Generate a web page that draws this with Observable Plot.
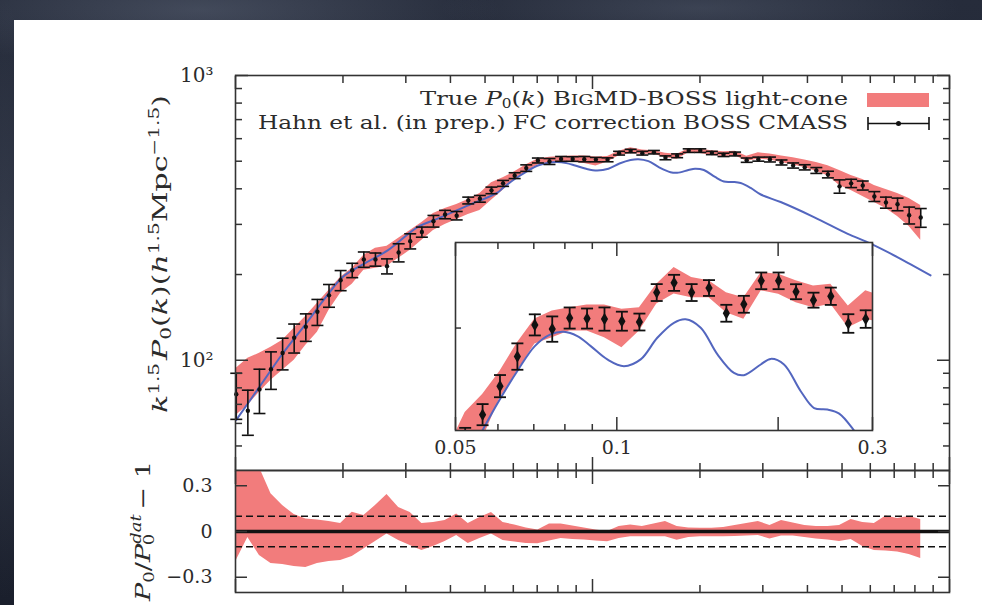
<!DOCTYPE html>
<html><head><meta charset="utf-8">
<script src="https://cdn.jsdelivr.net/npm/d3@7"></script>
<script src="https://cdn.jsdelivr.net/npm/@observablehq/plot@0.6"></script>
<style>
html,body{margin:0;padding:0;}
body{width:982px;height:605px;overflow:hidden;position:relative;background:#1c2130;}
#bg{position:absolute;left:0;top:0;width:982px;height:605px;
background:
 radial-gradient(ellipse 300px 60px at 200px 10px, rgba(120,130,150,0.35), transparent),
 radial-gradient(ellipse 260px 40px at 700px 8px, rgba(110,120,140,0.3), transparent),
 radial-gradient(ellipse 30px 300px at 5px 300px, rgba(110,120,140,0.3), transparent),
 linear-gradient(180deg,#262c3b,#1a1f2c);}
#panel{position:absolute;left:14px;top:20px;width:968px;height:585px;background:#fff;}
svg.layer{position:absolute;left:0;top:0;}
</style></head><body>
<div id="bg"></div><div id="panel"></div><div id="root"></div>
<script>
// ---- data ----
const kVals = [0.01005,0.01083,0.01167,0.01257,0.01355,0.01460,0.01574,0.01696,0.01828,0.01970,
0.02123,0.02288,0.02466,0.02657,0.02864,0.03086,0.03327,0.03585,0.03864,0.04164,
0.04487,0.04836,0.05212,0.05617,0.06053,0.06523,0.07031,0.07577,0.08166,0.08800,
0.09484,0.1022,0.1102,0.1187,0.1279,0.1379,0.1486,0.1601,0.1726,0.1860,
0.2004,0.2160,0.2328,0.2508,0.2704,0.2914,0.3141,0.3384,0.3648,0.3931,
0.4236,0.4565,0.4920,0.5302,0.5715,0.6159,0.6637,0.7152,0.7709,0.8307];
const pVals = [76,66.5,79,93,106,120,131,148,169,191,
207,226,226,214,239,262,282,308,325,322,
364,369,395,418,445,473,503,499,509.5,509,
508.5,506.5,505.7,533.6,542.8,533.6,537.9,514,522.5,544.7,
544.7,534.4,526.4,530.1,504.3,508.5,507,495,483,476,
464,449,408,418,411,376,358,353,323,317];
const pErr = [14,12,14,14,13.5,14,14.5,15.5,15.5,15.5,
12,14,12,13,17.5,16,11.5,14.5,11,11,
10,10,10.5,10,10.5,12.5,10,12,10,9.5,
11,9,8,8,7.6,8,7.5,8,8,7.9,
7.9,7.1,7.1,8.2,8.8,8.3,10,10,10,10,
11,12,22,14,15,15,16,18,22,24];
const bandLo = [64.1,69.5,77.2,85.1,92.2,100,112.9,125.4,149.8,171.8,
184.8,206.9,210.3,213.7,228,243.2,263.7,285.8,300,312.3,
325.2,335.9,365,395,433.8,459.1,484.8,490.8,497.1,497.1,
490.8,481.3,497.1,522.8,532.3,528.8,528.8,514.5,508.3,535.2,
532,524,519.3,522.5,500.3,508.3,505,495,485,475,
460,445,411.2,394.9,376.2,358.4,341.4,320,295.2,263.7];
const bandHi = [93.7,101.6,105.8,111.1,117.5,129.5,142.7,158.5,176,195.6,
210.3,233.6,247.2,251.2,268,285.8,304.9,327.9,341.4,352.6,
367.2,385.5,420,437,459.1,486,508.6,516.2,519.3,521.9,
521.9,517.8,519.3,541.5,557.3,547.8,544.7,533.5,528.8,552.5,
551,544.7,539.9,541.5,520.9,535.2,530,522,514,505,
495,482,464.2,445.8,431.7,411.2,398.1,385.5,370.2,349.8];
const resLo = [-0.19,-0.04,-0.157,-0.21,-0.216,-0.23,-0.236,-0.21,-0.197,-0.19,
-0.164,-0.115,-0.066,-0.016,-0.059,-0.092,-0.125,-0.098,-0.066,-0.026,
-0.079,-0.046,-0.016,-0.059,-0.069,-0.079,-0.081,-0.062,-0.046,-0.052,
-0.056,-0.062,-0.068,-0.046,-0.035,-0.035,-0.035,-0.035,-0.057,-0.039,
-0.035,-0.035,-0.035,-0.033,-0.03,-0.026,-0.049,-0.03,-0.03,-0.039,
-0.049,-0.056,-0.066,-0.052,-0.098,-0.125,-0.128,-0.134,-0.151,-0.177];
const resHi = [0.55,0.5,0.42,0.247,0.17,0.111,0.082,0.075,0.066,0.052,
0.127,0.105,0.17,0.243,0.157,0.125,0.052,0.059,0.072,0.115,
0.052,0.092,0.125,0.059,0.043,0.023,0.01,0.049,0.049,0.036,
0.023,0.01,0,0.033,0.043,0.033,0.049,0.066,0.033,0.023,
0.021,0.021,0.026,0.039,0.052,0.066,0.039,0.072,0.056,0.039,
0.033,0.033,0.039,0.079,0.059,0.052,0.102,0.085,0.098,0.079];
const thK = [0.01004,0.01167,0.01356,0.01576,0.01793,0.01997,0.02295,0.02669,0.03237,0.03683,
0.04371,0.0542,0.0561,0.0607,0.0655,0.0703,0.0752,0.0796,0.0844,0.0894,
0.0960,0.1031,0.1108,0.1190,0.1278,0.1344,0.1434,0.1541,0.1654,0.1727,
0.1856,0.1937,0.2051,0.2204,0.2334,0.2472,0.2600,0.2773,0.296,0.3365,
0.417,0.517,0.601,0.714,0.885];
const thP = [61.6,80.6,105.6,134.5,166.8,196.1,218.5,243.2,293.6,314.2,
345.1,388,402.8,433.8,460.8,482.9,494,496.5,492.4,482.9,
470.3,463.9,470.3,490.8,505,508.3,500.3,475,457.5,455.4,
465.5,470.8,465.5,440.2,424.3,422.8,419,402.8,382,359.4,
318.3,278.4,256.8,230.4,198.7];
const xMajor = [0.01,0.1,1];
const xMinor = [0.02,0.03,0.04,0.05,0.06,0.07,0.08,0.09,0.2,0.3,0.4,0.5,0.6,0.7,0.8,0.9];
const yMajor = [100,1000];
const yMinor = [50,60,70,80,90,200,300,400,500,600,700,800,900];
const yLabels = ["10²","10³"];
const insetXMajor = [0.05,0.1,0.2,0.3];
const insetXMinor = [0.06,0.07,0.08,0.09];
const insetXLabels = [0.05,0.1,0.3];
const insetYTicks = [500];
const resTicks = [-0.3,0,0.3];
const resLabels = ["−0.3","0","0.3"];
const resLines = [-0.1,0.1];

// ---- tables ----
const pts = kVals.map((k,i)=>({k, p:pVals[i], lo:pVals[i]-pErr[i], hi:pVals[i]+pErr[i],
  bl:bandLo[i], bh:bandHi[i], rl:resLo[i], rh:resHi[i]}));
const theory = thK.map((k,i)=>({k, p:thP[i]}));
const insetPts = pts.filter(d=>d.k>0.045 && d.k<0.34);

const RED = "#f27c7c", BLUE = "#5366bf", INK = "#111", AX = "#333", TXT = "#2b2b2b";
const FONT = "DejaVu Serif";
const capSym = {draw(ctx,size){const w=Math.sqrt(size/Math.PI);ctx.moveTo(-w,0);ctx.lineTo(w,0);}};

function xTickMarks(minor, major, anchors, lmin=7, lmaj=13){
  const out=[];
  for(const a of anchors) for(const [t,len] of [[minor,lmin],[major,lmaj]]){
    if(!t.length) continue;
    out.push(Plot.axisX({ticks:t, anchor:a, tickSize:len, dy: a==="top"?len:-len,
      fill:"none", tickFormat:()=>"", label:null, stroke:AX, strokeWidth:1.5}));
  }
  return out;
}
function yTickMarks(minor, major, anchors, lmin=7, lmaj=13){
  const out=[];
  for(const a of anchors) for(const [t,len] of [[minor,lmin],[major,lmaj]]){
    if(!t.length) continue;
    out.push(Plot.axisY({ticks:t, anchor:a, tickSize:len, dx: a==="left"?len:-len,
      fill:"none", tickFormat:()=>"", label:null, stroke:AX, strokeWidth:1.5}));
  }
  return out;
}
const baseStyle = {background:"transparent", overflow:"visible", fontFamily:FONT, color:TXT};

// ---- main panel ----
const main = Plot.plot({
  width:982, height:605, marginLeft:235, marginRight:33, marginTop:75, marginBottom:135,
  style: baseStyle,
  x:{type:"log", domain:[0.01,1]},
  y:{type:"log", domain:[41,1000]},
  marks:[
    Plot.areaY(pts,{x:"k", y1:"bl", y2:"bh", fill:RED, clip:true}),
    Plot.line(theory,{x:"k", y:"p", stroke:BLUE, strokeWidth:2, curve:"catmull-rom", clip:true}),
    Plot.ruleX(pts,{x:"k", y1:"lo", y2:"hi", stroke:INK, strokeWidth:1.6}),
    Plot.dot(pts,{x:"k", y:"lo", symbol:capSym, r:6, fill:"none", stroke:INK, strokeWidth:1.6}),
    Plot.dot(pts,{x:"k", y:"hi", symbol:capSym, r:6, fill:"none", stroke:INK, strokeWidth:1.6}),
    Plot.dot(pts,{x:"k", y:"p", r:2.2, fill:INK}),
    Plot.frame({stroke:AX, strokeWidth:1.6}),
    ...xTickMarks(xMinor, xMajor, ["top","bottom"]),
    ...yTickMarks(yMinor, yMajor, ["left","right"]),
    Plot.axisY({anchor:"left", ticks:yMajor, tickSize:0, tickPadding:22,
      tickFormat:(d)=>yLabels[yMajor.indexOf(d)], label:null, fontSize:20, fill:TXT})
  ]
});

// ---- residual panel ----
const lower = Plot.plot({
  width:982, height:605, marginLeft:235, marginRight:33, marginTop:470, marginBottom:13,
  style: baseStyle,
  x:{type:"log", domain:[0.01,1]},
  y:{domain:[-0.4,0.4]},
  marks:[
    Plot.areaY(pts,{x:"k", y1:"rl", y2:"rh", fill:RED, clip:true}),
    Plot.ruleY(resLines,{stroke:INK, strokeWidth:1.6, strokeDasharray:"7,4"}),
    Plot.ruleY([0],{stroke:INK, strokeWidth:3.5}),
    Plot.frame({stroke:AX, strokeWidth:1.6}),
    ...xTickMarks(xMinor, xMajor, ["top","bottom"]),
    ...yTickMarks([], resTicks, ["left","right"], 7, 12),
    Plot.axisY({anchor:"left", ticks:resTicks, tickSize:0, tickPadding:23,
      tickFormat:d=>resLabels[resTicks.indexOf(d)], label:null, fontSize:19, fill:TXT})
  ]
});

// ---- inset ----
const inset = Plot.plot({
  width:982, height:605, marginLeft:455, marginRight:110, marginTop:242, marginBottom:175,
  style: baseStyle,
  x:{type:"log", domain:[0.05,0.3]},
  y:{domain:[403,581]},
  marks:[
    Plot.frame({fill:"white", stroke:null}),
    Plot.areaY(insetPts,{x:"k", y1:"bl", y2:"bh", fill:RED, clip:true}),
    Plot.line(theory,{x:"k", y:"p", stroke:BLUE, strokeWidth:2, curve:"catmull-rom", clip:true}),
    Plot.ruleX(insetPts,{x:"k", y1:"lo", y2:"hi", stroke:INK, strokeWidth:1.8, clip:true}),
    Plot.dot(insetPts,{x:"k", y:"lo", symbol:capSym, r:6, fill:"none", stroke:INK, strokeWidth:1.8, clip:true}),
    Plot.dot(insetPts,{x:"k", y:"hi", symbol:capSym, r:6, fill:"none", stroke:INK, strokeWidth:1.8, clip:true}),
    Plot.dot(insetPts,{x:"k", y:"p", r:3.8, symbol:"diamond", fill:INK, clip:true}),
    Plot.frame({stroke:AX, strokeWidth:1.6}),
    ...xTickMarks(insetXMinor, insetXMajor, ["top","bottom"], 6, 13),
    ...yTickMarks([], insetYTicks, ["left"], 6, 6),
    Plot.axisX({anchor:"bottom", ticks:insetXLabels, tickSize:0, tickPadding:10,
      tickFormat:d=>String(d), label:null, fontSize:19, fill:TXT})
  ]
});

const root = document.getElementById("root");
for (const p of [main, lower, inset]) { p.classList.add("layer"); root.appendChild(p); }

// ---- text overlay: axis titles & legend ----
const ov = d3.select(root).append("svg").attr("class","layer")
  .attr("width",982).attr("height",605).style("font-family",FONT);

function rich(g, parts){
  for(const [txt, o] of parts){
    const t = g.append("tspan").text(txt);
    if(o) for(const k in o) t.attr(k, o[k]);
  }
}
// main y title
const yt = ov.append("text").attr("transform","translate(167,254) rotate(-90)")
  .attr("text-anchor","middle").attr("font-size",21).attr("fill",TXT)
  .attr("textLength",318).attr("lengthAdjust","spacingAndGlyphs");
rich(yt,[["k",{"font-style":"italic"}],["1.5",{"font-size":14,dy:-8}],
  ["P",{"font-style":"italic",dy:8,dx:2}],["0",{"font-size":14,dy:4}],["(",{dy:-4}],
  ["k",{"font-style":"italic"}],[")(",null],["h",{"font-style":"italic"}],
  ["1.5",{"font-size":14,dy:-8}],["Mpc",{dy:8}],["−1.5",{"font-size":14,dy:-8}],[")",{dy:8}]]);
// residual y title
const rt = ov.append("text").attr("transform","translate(150,531) rotate(-90)")
  .attr("text-anchor","middle").attr("font-size",21).attr("fill",TXT)
  .attr("textLength",140).attr("lengthAdjust","spacingAndGlyphs");
rich(rt,[["P",{"font-style":"italic"}],["0",{"font-size":14,dy:4}],["/",{dy:-4}],
  ["P",{"font-style":"italic"}],["dat",{"font-size":14,"font-style":"italic",dy:-9}],
  ["0",{"font-size":14,dx:-24,dy:13}],[" − 1",{dx:12,dy:-4}]]);

// legend
const l1 = ov.append("text").attr("x",848).attr("y",105).attr("text-anchor","end")
  .attr("font-size",19).attr("fill",TXT).attr("textLength",428).attr("lengthAdjust","spacingAndGlyphs");
rich(l1,[["True ",null],["P",{"font-style":"italic"}],["0",{"font-size":12,dy:3}],["(",{dy:-3}],
  ["k",{"font-style":"italic"}],[") B",null],["IG",{"font-size":15}],["MD-BOSS light-cone",null]]);
ov.append("text").attr("x",848).attr("y",129).attr("text-anchor","end")
  .attr("font-size",19).attr("fill",TXT).attr("textLength",590).attr("lengthAdjust","spacingAndGlyphs")
  .text("Hahn et al.  (in prep.) FC correction BOSS CMASS");
ov.append("rect").attr("x",867).attr("y",93).attr("width",62).attr("height",14).attr("fill",RED);
const eb = ov.append("g").attr("stroke",INK).attr("stroke-width",1.6);
eb.append("line").attr("x1",868).attr("x2",929).attr("y1",123.5).attr("y2",123.5);
eb.append("line").attr("x1",868).attr("x2",868).attr("y1",117).attr("y2",130);
eb.append("line").attr("x1",929).attr("x2",929).attr("y1",117).attr("y2",130);
ov.append("circle").attr("cx",898.5).attr("cy",123.5).attr("r",2.5).attr("fill",INK);
</script></body></html>
